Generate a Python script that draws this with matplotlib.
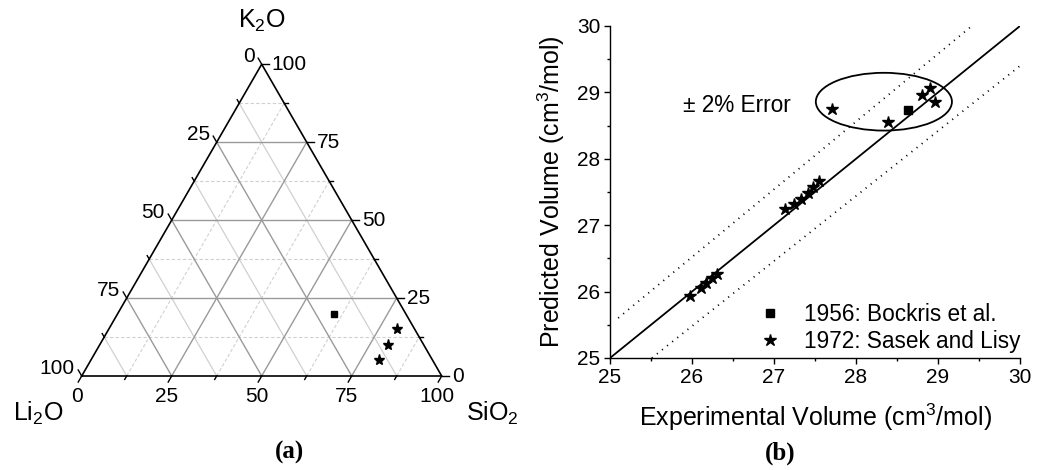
import numpy as np
import matplotlib
matplotlib.use("Agg")
import matplotlib.pyplot as plt
from matplotlib.patches import Ellipse

plt.rcParams['font.family'] = ['Liberation Sans', 'DejaVu Sans']
plt.rcParams['mathtext.fontset'] = 'custom'
plt.rcParams['mathtext.rm'] = 'Liberation Sans'
plt.rcParams['mathtext.it'] = 'Liberation Sans'
plt.rcParams['mathtext.default'] = 'regular'

# ---------------- data ----------------
tern_ticks = [0, 25, 50, 75, 100]
tern_minor = [12.5, 37.5, 62.5, 87.5]

bock_sio2 = [60]
bock_k2o = [20]
bock_li2o = [20]

sasek_sio2 = [80, 80, 80]
sasek_k2o = [15, 10, 5]
sasek_li2o = [5, 10, 15]

bock_exp = [28.63]
bock_pred = [28.73]
sasek_exp = [25.97, 26.11, 26.17, 26.24, 26.31, 27.13, 27.24, 27.33, 27.41, 27.48,
             27.55, 27.71, 28.39, 28.81, 28.90, 28.96]
sasek_pred = [25.93, 26.06, 26.13, 26.20, 26.27, 27.24, 27.32, 27.40, 27.49, 27.58,
              27.67, 28.75, 28.55, 28.96, 29.07, 28.85]

vol_ticks = [25, 26, 27, 28, 29, 30]
err_frac = 0.02

FS = 15      # tick labels
FL = 18      # axis titles
FT = 16.3    # legend / annotation
FP = 18      # panel labels
W, H = 1037, 470
fig = plt.figure(figsize=(W / 100, H / 100), dpi=100)

# ---------------- ternary panel ----------------
h = np.sqrt(3) / 2
L, R, B = 81.7, 441.7, 376.0
side = R - L
axt = fig.add_axes([L / W, (H - B) / H, side / W, side * h / H])
axt.set_xlim(0, 1)
axt.set_ylim(0, h)
axt.axis('off')
u = 1.0 / side  # one pixel in ternary units


def tern(s, k):
    s = np.asarray(s, float) / 100
    k = np.asarray(k, float) / 100
    return s + k / 2, k * h


def seg(p0, p1, **kw):
    x0, y0 = tern(*p0)
    x1, y1 = tern(*p1)
    axt.plot([x0, x1], [y0, y1], clip_on=False, **kw)


major_kw = dict(color='#9a9a9a', lw=1.0)
minor_solid = dict(color='#d0d0d0', lw=0.9)
minor_dash = dict(color='#d0d0d0', lw=0.8, ls=(0, (3, 2)))

for v in tern_minor:
    seg((0, v), (100 - v, v), **minor_dash)            # const K2O
    seg((v, 0), (v, 100 - v), **minor_dash)            # const SiO2
    seg((100 - v, 0), (0, 100 - v), **minor_solid)     # const Li2O
for v in tern_ticks[1:-1]:
    seg((0, v), (100 - v, v), **major_kw)
    seg((v, 0), (v, 100 - v), **major_kw)
    seg((100 - v, 0), (0, 100 - v), **major_kw)

# frame
xs, ys = tern([0, 100, 0, 0], [0, 0, 100, 0])
axt.plot(xs, ys, color='black', lw=1.2, clip_on=False, solid_joinstyle='miter')

# ticks
dirs = {'bottom': (-0.5, -h), 'right': (1.0, 0.0), 'left': (-0.5, h)}
for v, ln in [(t, 7) for t in tern_ticks] + [(t, 4) for t in tern_minor]:
    x, y = tern(v, 0)
    dx, dy = dirs['bottom']
    axt.plot([x, x + dx * ln * u], [y, y + dy * ln * u], color='black', lw=1.0, clip_on=False)
    x, y = tern(100 - v, v)
    dx, dy = dirs['right']
    axt.plot([x, x + dx * ln * u], [y, y + dy * ln * u], color='black', lw=1.0, clip_on=False)
    x, y = tern(0, 100 - v)
    dx, dy = dirs['left']
    axt.plot([x, x + dx * ln * u], [y, y + dy * ln * u], color='black', lw=1.0, clip_on=False)

for v in tern_ticks:
    x, y = tern(v, 0)
    axt.text(x - 5 * u, y - 21 * u, str(v), fontsize=FS, ha='center', va='center')
    x, y = tern(100 - v, v)
    axt.text(x + 10 * u, y, str(v), fontsize=FS, ha='left', va='center')
    x, y = tern(0, 100 - v)
    axt.text(x - 7 * u, y + 8 * u, str(v), fontsize=FS, ha='right', va='center')

axt.text(0.5, h + 43 * u, 'K$_2$O', fontsize=FL, ha='center', va='center')
axt.text(-44 * u, -37 * u, 'Li$_2$O', fontsize=FL, ha='center', va='center')
axt.text(1 + 24 * u, -37 * u, 'SiO$_2$', fontsize=FL, ha='left', va='center')

bx, by = tern(bock_sio2, bock_k2o)
axt.plot(bx, by, 's', color='black', ms=4.8, clip_on=False)
sx, sy = tern(sasek_sio2, sasek_k2o)
axt.plot(sx, sy, '*', color='black', ms=8, clip_on=False)

fig.text(290 / W, 1 - 452 / H, '(a)', fontsize=FP, fontweight='bold',
         family='Liberation Serif', ha='center', va='center')

# ---------------- parity panel ----------------
ax = fig.add_axes([610 / W, (H - 358) / H, 410 / W, 332 / H])
ax.set_xlim(25, 30)
ax.set_ylim(25, 30)
for sp in ['top', 'right']:
    ax.spines[sp].set_visible(False)
for sp in ['left', 'bottom']:
    ax.spines[sp].set_linewidth(1.0)
ax.set_xticks(vol_ticks)
ax.set_yticks(vol_ticks)
ax.set_xticks(np.arange(25.5, 30, 1.0), minor=True)
ax.set_yticks(np.arange(25.5, 30, 1.0), minor=True)
ax.tick_params(which='major', direction='out', length=4, width=1.0, labelsize=FS, pad=3)
ax.tick_params(which='minor', direction='out', length=2.5, width=1.0)

lo, hi = vol_ticks[0], vol_ticks[-1]
ax.plot([lo, hi], [lo, hi], color='black', lw=1.3)
xu = np.array([25.1, 29.4])
ax.plot(xu, (1 + err_frac) * xu, color='black', lw=1.3, ls=(0, (0.6, 3.0)))
xl = np.array([lo / (1 - err_frac), hi])
ax.plot(xl, (1 - err_frac) * xl, color='black', lw=1.3, ls=(0, (0.6, 3.0)))

ax.add_patch(Ellipse((28.34, 28.86), 1.66, 0.87, fill=False, ec='black', lw=1.3))
ax.text(25.89, 28.81, '± 2% Error', fontsize=FT, ha='left', va='center')

ax.plot(bock_exp, bock_pred, 's', color='black', ms=5.5, ls='none', label='1956: Bockris et al.')
ax.plot(sasek_exp, sasek_pred, '*', color='black', ms=9, ls='none', label='1972: Sasek and Lisy')
ax.legend(frameon=False, loc='lower right', bbox_to_anchor=(1.035, -0.027), fontsize=FT,
          handlelength=1.0, handletextpad=1.0, labelspacing=0.2, borderaxespad=0.2)

ax.set_xlabel('Experimental Volume (cm$^3$/mol)', fontsize=FL, labelpad=11)
ax.set_ylabel('Predicted Volume (cm$^3$/mol)', fontsize=FL, labelpad=7)

fig.text(780 / W, 1 - 453 / H, '(b)', fontsize=FP, fontweight='bold',
         family='Liberation Serif', ha='center', va='center')

fig.savefig('out.png', dpi=100)
